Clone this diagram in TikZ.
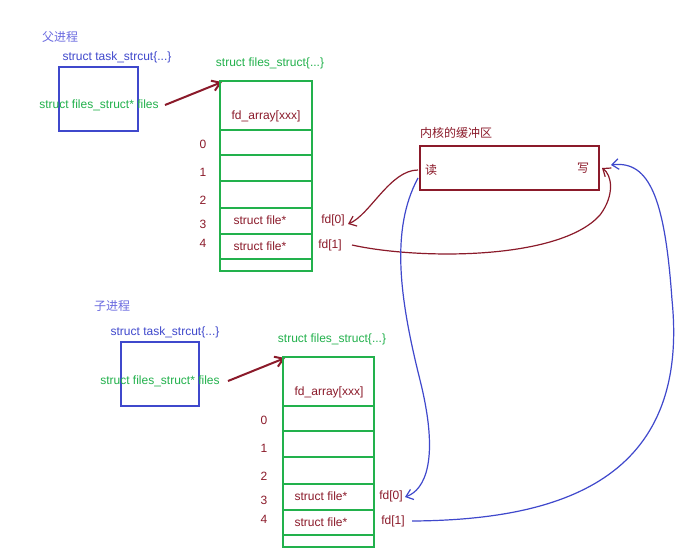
\documentclass[tikz,border=0pt]{standalone}
\usepackage{fontspec}
\setmainfont{Liberation Sans}
\newfontfamily\cjk{Noto Sans CJK SC}
\usetikzlibrary{arrows.meta}
\definecolor{dr}{HTML}{8B1A2A}
\definecolor{gr}{HTML}{22B14C}
\definecolor{bl}{HTML}{3F48CC}
\definecolor{lb}{HTML}{6A6AE0}
\begin{document}
\begin{tikzpicture}[x=0.75pt,y=-0.75pt,
  t/.style={font=\fontsize{9}{10}\selectfont,inner sep=0pt},
  gt/.style={t,text=gr}, rt/.style={t,text=dr}, bt/.style={t,text=bl},
  cj/.style={t,font=\cjk\fontsize{9}{10}\selectfont},
  gbox/.style={draw=gr,line width=1.3pt},
  bbox/.style={draw=bl,line width=1.5pt},
  rarr/.style={draw=dr,line width=1.5pt,-{Straight Barb[length=6pt,width=8pt]}},
  rcur/.style={draw=dr,line width=0.9pt},
  bcur/.style={draw=bl,line width=0.9pt}]
\useasboundingbox[fill=white] (0,0) rectangle (685,558);
% parent
\node[cj,text=lb] (pp) at (60,37) {父进程};
\node[bt] (pt) at (117,57) {struct task\_strcut\{...\}};
\draw[bbox] (59,67) rectangle (138,131);
\node[gt] (pf) at (99,105) {struct files\_struct* files};
\coordinate (pa1) at (165,105); \coordinate (pa2) at (222,82);
\draw[rarr] (pa1) -- (pa2);
\node[gt] (pfs) at (270,63) {struct files\_struct\{...\}};
\draw[gbox] (220,81) rectangle (312,271);
\foreach \y in {130,155,181,208,234,259} \draw[gbox] (220,\y) -- (312,\y);
\node[rt] at (266,116) {fd\_array[xxx]};
\foreach \i/\y in {0/144,1/172,2/200,3/224,4/243} \node[rt] at (203,\y) {\i};
\node[rt] at (260,220) {struct file*};
\node[rt] at (260,246) {struct file*};
\node[rt] (pf0) at (333,220) {fd[0]};
\node[rt] (pf1) at (330,245) {fd[1]};
% kernel
\node[cj,text=dr] at (456,133) {内核的缓冲区};
\draw[draw=dr,line width=1.5pt] (420,146) rectangle (599,190);
\node[cj,text=dr] (rd) at (431,170) {读};
\node[cj,text=dr] (wr) at (583,168) {写};
% child
\node[cj,text=lb] at (112,306) {子进程};
\node[bt] at (165,332) {struct task\_strcut\{...\}};
\draw[bbox] (121,342) rectangle (199,406);
\node[gt] at (160,381) {struct files\_struct* files};
\coordinate (ca1) at (228,381); \coordinate (ca2) at (285,358);
\draw[rarr] (ca1) -- (ca2);
\node[gt] at (332,339) {struct files\_struct\{...\}};
\draw[gbox] (283,357) rectangle (374,547);
\foreach \y in {406,431,457,484,510,535} \draw[gbox] (283,\y) -- (374,\y);
\node[rt] at (329,392) {fd\_array[xxx]};
\foreach \i/\y in {0/420,1/448,2/476,3/500,4/519} \node[rt] at (264,\y) {\i};
\node[rt] at (321,496) {struct file*};
\node[rt] at (321,522) {struct file*};
\node[rt] (cf0) at (391,496) {fd[0]};
\node[rt] (cf1) at (393,521) {fd[1]};
% curves
\draw[rcur,-{Straight Barb[length=5pt,width=8pt]}] (418,170) .. controls (390,170) and (370,215) .. (348,224);
\draw[rcur,-{Straight Barb[length=5pt,width=8pt]}] (352,245) .. controls (420,260) and (560,260) .. (600,215) .. controls (615,195) and (612,175) .. (602,168);
\draw[bcur,-{Straight Barb[length=5pt,width=8pt]}] (418,178) .. controls (390,230) and (400,300) .. (420,380) .. controls (440,460) and (425,490) .. (405,497);
\draw[bcur,-{Straight Barb[length=5pt,width=8pt]}] (412,521) .. controls (560,520) and (690,480) .. (672,300) .. controls (665,200) and (650,160) .. (611,165);
\end{tikzpicture}
\end{document}
